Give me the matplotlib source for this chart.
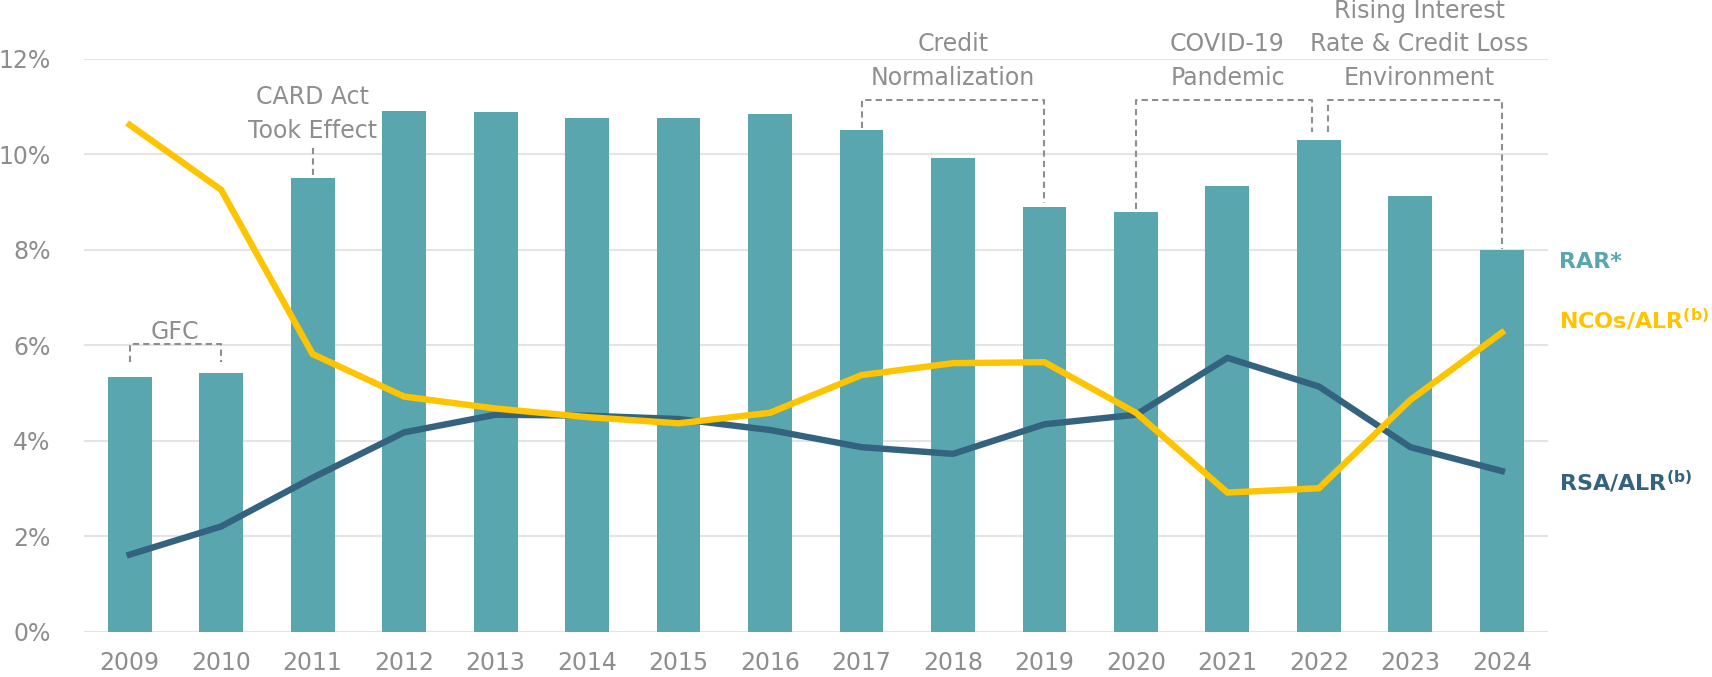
import matplotlib
matplotlib.use("Agg")
import matplotlib.pyplot as plt

# Chart data
years = ["2009", "2010", "2011", "2012", "2013", "2014", "2015", "2016",
         "2017", "2018", "2019", "2020", "2021", "2022", "2023", "2024"]
rar = [5.34, 5.43, 9.50, 10.92, 10.89, 10.76, 10.76, 10.84,
       10.51, 9.92, 8.91, 8.79, 9.33, 10.30, 9.12, 7.99]
nco_alr = [10.62, 9.26, 5.82, 4.93, 4.68, 4.50, 4.37, 4.59,
           5.38, 5.63, 5.65, 4.59, 2.92, 3.01, 4.86, 6.27]
rsa_alr = [1.62, 2.21, 3.23, 4.18, 4.55, 4.53, 4.46, 4.23,
           3.87, 3.73, 4.35, 4.55, 5.74, 5.14, 3.87, 3.37]
y_ticks = [0, 2, 4, 6, 8, 10, 12]

# colours
TEAL = "#59A6AE"
GOLD = "#FFC400"
NAVY = "#33637F"
GREY = "#8E8E8E"
GRID = "#E4E4E4"

plt.rcParams['font.family'] = ['DejaVu Sans']
plt.rcParams['mathtext.fontset'] = 'dejavusans'

fig = plt.figure(figsize=(17.12, 6.77), dpi=100)
ax = fig.add_axes([0.049, 0.0665, 0.855, 0.8464])

x = list(range(len(years)))

# bars and lines
ax.bar(x, rar, width=0.48, color=TEAL, zorder=2)
ax.plot(x, nco_alr, color=GOLD, linewidth=4.6, solid_joinstyle='miter', zorder=4)
ax.plot(x, rsa_alr, color=NAVY, linewidth=4.6, solid_joinstyle='miter', zorder=3)

# axes styling
ax.set_xlim(-0.5, len(years) - 0.5)
ax.set_ylim(0, 12)
ax.set_yticks(y_ticks)
ax.set_yticklabels([f"{t}%" for t in y_ticks])
ax.set_xticks(x)
ax.set_xticklabels(years)
ax.tick_params(axis='both', length=0, labelsize=17, labelcolor=GREY)
ax.tick_params(axis='y', pad=24)
ax.tick_params(axis='x', pad=14)
ax.grid(axis='y', color=GRID, linewidth=1.5, zorder=0)
ax.set_axisbelow(True)
for s in ax.spines.values():
    s.set_visible(False)


# dashed bracket helper: legs at x positions, bottom ends, common top
def bracket(xs, bottoms, top):
    if len(xs) == 1:
        ax.plot([xs[0], xs[0]], [bottoms[0], top], color=GREY, lw=1.5,
                dashes=(3, 2), clip_on=False, zorder=5)
    else:
        ax.plot([xs[0], xs[0], xs[1], xs[1]], [bottoms[0], top, top, bottoms[1]],
                color=GREY, lw=1.5, dashes=(3, 2), clip_on=False, zorder=5)


bracket([0, 1], [5.65, 5.65], 6.03)
bracket([2], [rar[2] + 0.07], 10.18)
bracket([8, 10], [rar[8] + 0.05, rar[10] + 0.07], 11.15)
bracket([11, 12.92], [rar[11] + 0.06, 10.48], 11.15)
bracket([13.10, 15], [10.48, rar[15] + 0.04], 11.15)

# annotation text (y = baseline of the last line)
notes = [
    (0.5, 6.14, "GFC"),
    (2, 10.35, "CARD Act\nTook Effect"),
    (9, 11.46, "Credit\nNormalization"),
    (12, 11.46, "COVID-19\nPandemic"),
    (14.1, 11.46, "Rising Interest\nRate & Credit Loss\nEnvironment"),
]
for nx, ny, txt in notes:
    ax.text(nx, ny, txt, ha='center', va='baseline', fontsize=17, color=GREY,
            linespacing=1.5, clip_on=False)

# series labels on the right
ytr = ax.get_yaxis_transform()
ax.text(1.008, 7.62, "RAR*", transform=ytr, fontsize=16, fontweight='bold',
        color=TEAL, va='baseline')
ax.text(1.008, 6.36, r"NCOs/ALR$^{\mathbf{(b)}}$", transform=ytr, fontsize=16,
        fontweight='bold', color=GOLD, va='baseline')
ax.text(1.008, 2.95, r"RSA/ALR$^{\mathbf{(b)}}$", transform=ytr, fontsize=16,
        fontweight='bold', color=NAVY, va='baseline')

fig.savefig("out.png", dpi=100)
